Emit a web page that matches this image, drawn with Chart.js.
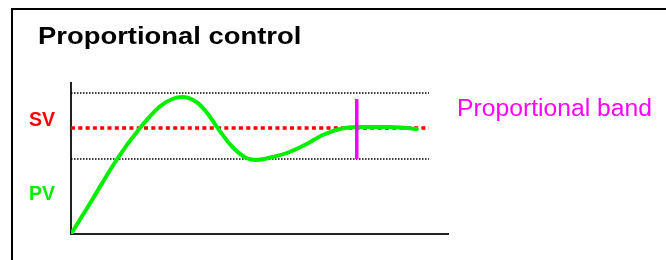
<!DOCTYPE html>
<html>
<head>
<meta charset="utf-8">
<script src="https://cdn.jsdelivr.net/npm/chart.js@4"></script>
<style>
  html, body { margin: 0; padding: 0; background: #fff; }
  #wrap { position: relative; width: 666px; height: 260px; overflow: hidden; }
  #frame { position: absolute; left: 11px; top: 8px; width: 720px; height: 320px;
           border-left: 2px solid #000; border-top: 2px solid #000; }
  canvas { position: absolute; left: 0; top: 0; }
  .txt { position: absolute; font-family: "Liberation Sans", Arial, sans-serif; line-height: 1;
         white-space: nowrap; transform-origin: 0 0; }
  #title { left: 37.5px; top: 24.5px; font-size: 23.5px; font-weight: bold; color: #000; transform: scaleX(1.166); }
  #band { left: 457px; top: 96.5px; font-size: 23.5px; color: #ff00ff; transform: scaleX(1.051); }
</style>
</head>
<body>
<div id="wrap">
  <div id="frame"></div>
  <canvas id="c" width="666" height="260"></canvas>
  <div class="txt" id="title">Proportional control</div>
  <div class="txt" id="band">Proportional band</div>
</div>
<script>
// ---- data (x: time, y: process value) ----
const xMax = 376;
const yMax = 151;

const pvX = [0, 21, 46, 68, 88, 101, 111, 125, 135, 147, 161, 175, 185, 201, 218, 235, 251, 268, 285, 301, 318, 335, 345];
const pvY = [0, 34, 75, 105, 127, 135, 137, 132, 122, 105, 87, 76, 74, 77, 82, 90, 99, 105, 107, 107, 107, 106, 105];

const svValue = 106;
const bandTop = 141;
const bandBottom = 75;
const refLineX = [0, 357];

const bandMarkerX = [285, 285];
const bandMarkerY = [75, 135];

const yTickValues = [39, 113];
const yTickLabels = ['PV', 'SV'];
const yTickColors = ['#00ee00', '#ff0000'];

// ---- build datasets ----
const pts = (xs, ys) => xs.map((x, i) => ({ x: x, y: ys[i] }));
const hLine = (v) => refLineX.map(x => ({ x: x, y: v }));

const FONT = '"Liberation Sans", Arial, sans-serif';

new Chart(document.getElementById('c'), {
  type: 'line',
  data: {
    datasets: [
      { label: 'band marker', data: pts(bandMarkerX, bandMarkerY), borderColor: '#ff00ff',
        borderWidth: 3.5, pointRadius: 0, order: 0, borderCapStyle: 'butt' },
      { label: 'PV', data: pts(pvX, pvY), borderColor: '#00ee00', borderWidth: 4,
        pointRadius: 0, cubicInterpolationMode: 'monotone', order: 1, borderCapStyle: 'round' },
      { label: 'SV', data: hLine(svValue), borderColor: '#ff0000', borderWidth: 3.5,
        borderDash: [4, 3.3], pointRadius: 0, order: 2 },
      { label: 'band top', data: hLine(bandTop), borderColor: '#000', borderWidth: 1.5,
        borderDash: [1.5, 1.5], pointRadius: 0, order: 3 },
      { label: 'band bottom', data: hLine(bandBottom), borderColor: '#000', borderWidth: 1.5,
        borderDash: [1.5, 1.5], pointRadius: 0, order: 3 }
    ]
  },
  options: {
    responsive: false,
    animation: false,
    events: [],
    layout: { padding: { left: 13, top: 83, right: 218, bottom: 26 } },
    plugins: { legend: { display: false }, tooltip: { enabled: false }, title: { display: false } },
    scales: {
      x: {
        type: 'linear', min: 0, max: xMax,
        grid: { color: 'rgba(0,0,0,0)', drawTicks: false },
        border: { display: true, color: '#222', width: 2 },
        ticks: { display: false }
      },
      y: {
        type: 'linear', min: 0, max: yMax,
        grid: { color: 'rgba(0,0,0,0)', drawTicks: false },
        border: { display: true, color: '#222', width: 2 },
        afterBuildTicks: (scale) => { scale.ticks = yTickValues.map(v => ({ value: v })); },
        ticks: {
          padding: 16,
          font: { family: FONT, size: 19.5, weight: 'bold', lineHeight: 1 },
          color: (ctx) => yTickColors[ctx.index],
          callback: (value, index) => yTickLabels[index]
        }
      }
    }
  }
});
</script>
</body>
</html>
